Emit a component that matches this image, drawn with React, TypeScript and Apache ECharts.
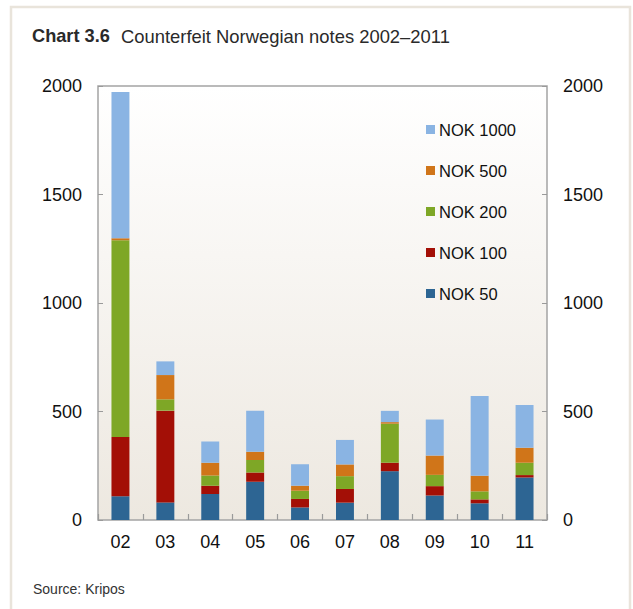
import React, { useEffect, useRef } from "react";
import * as echarts from "echarts";

const categories = ["02", "03", "04", "05", "06", "07", "08", "09", "10", "11"];
const nok50 = [110, 81, 120, 176, 58, 80, 225, 113, 77, 196];
const nok100 = [273, 423, 38, 43, 39, 63, 39, 43, 18, 11];
const nok200 = [906, 52, 47, 57, 38, 59, 180, 52, 37, 57];
const nok500 = [9, 112, 59, 38, 23, 54, 7, 89, 72, 69];
const nok1000 = [674, 63, 98, 189, 99, 113, 52, 166, 368, 197];
const seriesNames = ["NOK 50", "NOK 100", "NOK 200", "NOK 500", "NOK 1000"];
const seriesColors = ["#2d6593", "#a30f06", "#7ea726", "#d07519", "#8ab4e3"];
const yMin = 0;
const yMax = 2000;
const yInterval = 500;
const titleBold = "Chart 3.6";
const titleText = "Counterfeit Norwegian notes 2002\u20132011";
const sourceText = "Source: Kripos";

const FONT = "'Liberation Sans', Arial, Helvetica, sans-serif";

export default function App() {
  const ref = useRef<HTMLDivElement>(null);
  useEffect(() => {
    if (!ref.current) return;
    const chart = echarts.init(ref.current, null, { renderer: "svg" });
    const values = [nok50, nok100, nok200, nok500, nok1000];
    const yAxisCommon = {
      type: "value" as const,
      min: yMin,
      max: yMax,
      interval: yInterval,
      splitLine: { show: false },
      axisLine: { show: false },
      axisTick: { show: true, inside: true, length: 5, lineStyle: { color: "#9a9a9a", width: 1 } },
      axisLabel: {
        color: "#111",
        fontSize: 18,
        fontFamily: FONT,
        margin: 16,
        formatter: (v: number) => String(v),
      },
    };
    chart.setOption({
      animation: false,
      backgroundColor: "#ffffff",
      textStyle: { fontFamily: FONT },
      grid: {
        left: 98,
        top: 86,
        right: 86,
        bottom: 89,
        show: true,
        borderColor: "#a4a4a4",
        borderWidth: 1.5,
        backgroundColor: new echarts.graphic.LinearGradient(0, 0, 0, 1, [
          { offset: 0, color: "#ffffff" },
          { offset: 1, color: "#ede8e0" },
        ]),
      },
      legend: {
        orient: "vertical",
        left: 426,
        top: 121,
        padding: 0,
        itemWidth: 9,
        itemHeight: 9,
        itemGap: 24,
        icon: "rect",
        data: [...seriesNames].reverse(),
        textStyle: { color: "#111", fontSize: 16.5, fontFamily: FONT, lineHeight: 17, padding: [0, 0, 0, -1] },
        selectedMode: false,
      },
      xAxis: {
        type: "category",
        data: categories,
        axisLine: { show: false },
        axisTick: { show: true, inside: true, length: 6, alignWithLabel: false, lineStyle: { color: "#9a9a9a", width: 1.2 } },
        axisLabel: { color: "#111", fontSize: 18, fontFamily: FONT, margin: 13 },
      },
      yAxis: [
        { ...yAxisCommon, position: "left" },
        { ...yAxisCommon, position: "right" },
      ],
      series: seriesNames.map((name, i) => ({
        name,
        type: "bar",
        stack: "total",
        yAxisIndex: 0,
        barWidth: "40%",
        data: values[i],
        itemStyle: { color: seriesColors[i] },
      })),
      graphic: [
        {
          type: "rect",
          shape: { x: 11, y: 7, width: 619, height: 620 },
          style: { fill: "none", stroke: "#e9e4db", lineWidth: 2.5 },
          silent: true,
        },
        {
          type: "text",
          left: 32,
          top: 27,
          style: { text: titleBold, fontSize: 18.2, fontWeight: "bold", fill: "#2a2a2a", fontFamily: FONT },
        },
        {
          type: "text",
          left: 121,
          top: 27,
          style: { text: titleText, fontSize: 18.4, fill: "#2a2a2a", fontFamily: FONT },
        },
        {
          type: "text",
          left: 33,
          top: 582,
          style: { text: sourceText, fontSize: 14, fill: "#333", fontFamily: FONT },
        },
      ],
    });
    return () => chart.dispose();
  }, []);
  return (
    <div
      ref={ref}
      style={{ position: "fixed", left: 0, top: 0, width: 633, height: 609, background: "#fff" }}
    />
  );
}
